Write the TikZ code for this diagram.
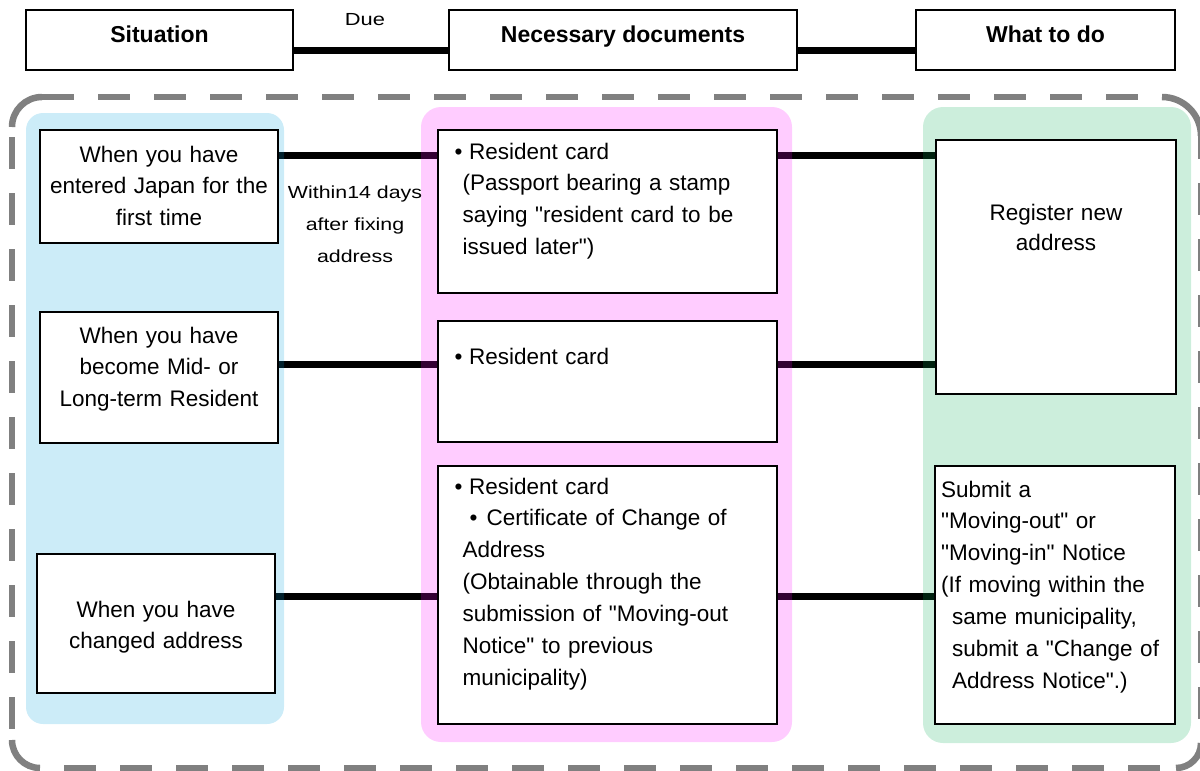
\documentclass[tikz,border=0pt]{standalone}
\usepackage{fontspec}
\setmainfont{Liberation Sans}[Ligatures=TeXOff]
\usepackage{graphicx}
\pgfdeclarelayer{bg}
\pgfdeclarelayer{mid}
\pgfsetlayers{bg,mid,main}
\definecolor{outergray}{RGB}{128,128,128}
\definecolor{colblue}{RGB}{0,160,220}
\definecolor{colpink}{RGB}{255,0,255}
\definecolor{colgreen}{RGB}{0,170,80}
\tikzset{
  box/.style={draw=black, fill=white, line width=1.5pt, inner sep=0pt, rectangle},
  conn/.style={line width=7pt, draw=black},
  outerline/.style={line width=6.5pt, draw=outergray},
  outerdash/.style={outerline, dash pattern=on 32pt off 24pt},
  colfill/.style={fill=#1, fill opacity=0.2},
  hdrtext/.style={font=\fontsize{23}{28}\selectfont\bfseries, inner sep=0pt, anchor=base},
  ctext/.style={font=\fontsize{22.5}{31.7}\selectfont, inner sep=0pt, anchor=base, text width=#1, align=center},
  ltext/.style={font=\fontsize{22.5}{31.9}\selectfont, inner sep=0pt, anchor=base west, text width=#1, align=left},
  smalltext/.style={font=\fontsize{17.5}{32}\selectfont, inner sep=0pt, anchor=base}
}
\begin{document}
\begin{tikzpicture}[x=1pt,y=-1pt]
\useasboundingbox (0,0) rectangle (1200,771);

% header boxes
\node[box, minimum width=267, minimum height=60] (hs) at (159.5,40) {};
\node[box, minimum width=348, minimum height=60] (hn) at (623,40) {};
\node[box, minimum width=259, minimum height=60] (hw) at (1045.5,40) {};
\node[hdrtext] (hst) at (159.5,42) {Situation};
\node[hdrtext] (hnt) at (623,42) {Necessary documents};
\node[hdrtext] (hwt) at (1045.5,42) {What to do};
\node[smalltext] (due) at (365,25) {\scalebox{1.25}[1]{Due}};

% situation boxes
\node[box, minimum width=238, minimum height=113] (s1) at (159,186.5) {};
\node[box, minimum width=238, minimum height=131] (s2) at (159,377.5) {};
\node[box, minimum width=238, minimum height=139] (s3) at (156,623.5) {};
\node[ctext=236] (s1t) at (159,162) {When you have\\entered Japan for the\\first time};
\node[ctext=236] (s2t) at (159,343) {When you have\\become Mid- or\\Long-term Resident};
\node[ctext=236] (s3t) at (156,617) {When you have\\changed address};

% documents boxes
\node[box, minimum width=339, minimum height=163] (d1) at (607.5,211.5) {};
\node[box, minimum width=339, minimum height=121] (d2) at (607.5,381.5) {};
\node[box, minimum width=339, minimum height=258] (d3) at (607.5,595) {};
\node[ltext=330] (d1t) at (454.5,159) {•\hspace*{6.5pt}Resident card\\\hspace*{8pt}(Passport bearing a stamp\\\hspace*{8pt}saying "resident card to be\\\hspace*{8pt}issued later")};
\node[ltext=330] (d2t) at (454.5,364) {•\hspace*{6.5pt}Resident card};
\node[ltext=330] (d3t) at (454.5,494) {•\hspace*{6.5pt}Resident card\\\hspace*{15pt}•\hspace*{9pt}Certificate of Change of\\\hspace*{8pt}Address\\\hspace*{8pt}(Obtainable through the\\\hspace*{8pt}submission of "Moving-out\\\hspace*{8pt}Notice" to previous\\\hspace*{8pt}municipality)};

% what to do boxes
\node[box, minimum width=240, minimum height=254] (g1) at (1056,267) {};
\node[box, minimum width=240, minimum height=258] (g2) at (1055,595) {};
\node[ctext=236, font=\fontsize{22.5}{30}\selectfont] (g1t) at (1056,220) {Register new\\address};
\node[ltext=260] (g2t) at (941,497) {Submit a\\"Moving-out" or\\"Moving-in" Notice\\(If moving within the\\\hspace*{11pt}same municipality,\\\hspace*{11pt}submit a "Change of\\\hspace*{11pt}Address Notice".)};

% due label
\node[smalltext] (within) at (355,198) {\scalebox{1.22}[1]{\begin{tabular}[t]{@{}c@{}}Within14 days\\after fixing\\address\end{tabular}}};

\begin{pgfonlayer}{mid}
  \fill[colfill=colblue, rounded corners=17] (26,113) rectangle (284,724);
  \fill[colfill=colpink, rounded corners=20] (421,107) rectangle (792,742);
  \fill[colfill=colgreen, rounded corners=20] (923,107) rectangle (1191,743);
\end{pgfonlayer}

\begin{pgfonlayer}{bg}
  % connectors
  \draw[conn] (hs.east |- 0,50.5) -- (hn.west |- 0,50.5);
  \draw[conn] (hn.east |- 0,50.5) -- (hw.west |- 0,50.5);
  \draw[conn] (s1.east |- 0,155.5) -- (d1.west |- 0,155.5);
  \draw[conn] (d1.east |- 0,155.5) -- (g1.west |- 0,155.5);
  \draw[conn] (s2.east |- 0,364) -- (d2.west |- 0,364);
  \draw[conn] (d2.east |- 0,364) -- (g1.west |- 0,364);
  \draw[conn] (s3.east |- 0,596) -- (d3.west |- 0,596);
  \draw[conn] (d3.east |- 0,596) -- (g2.west |- 0,596);
  % outer dashed frame
  \draw[outerdash] (42,97) -- (1162,97);
  \draw[outerdash] (1201,127) -- (1201,743);
  \draw[outerdash] (64,768) -- (1161,768);
  \draw[outerdash] (12,137) -- (12,729);
  \draw[outerline, rounded corners=30] (12,127) -- (12,97) -- (42,97);
  \draw[outerline, rounded corners=39] (1162,97) -- (1201,97) -- (1201,136);
  \draw[outerline, rounded corners=25] (1201,743) -- (1201,768) -- (1176,768);
  \draw[outerline, rounded corners=28] (40,768) -- (12,768) -- (12,740);
\end{pgfonlayer}
\end{tikzpicture}
\end{document}
